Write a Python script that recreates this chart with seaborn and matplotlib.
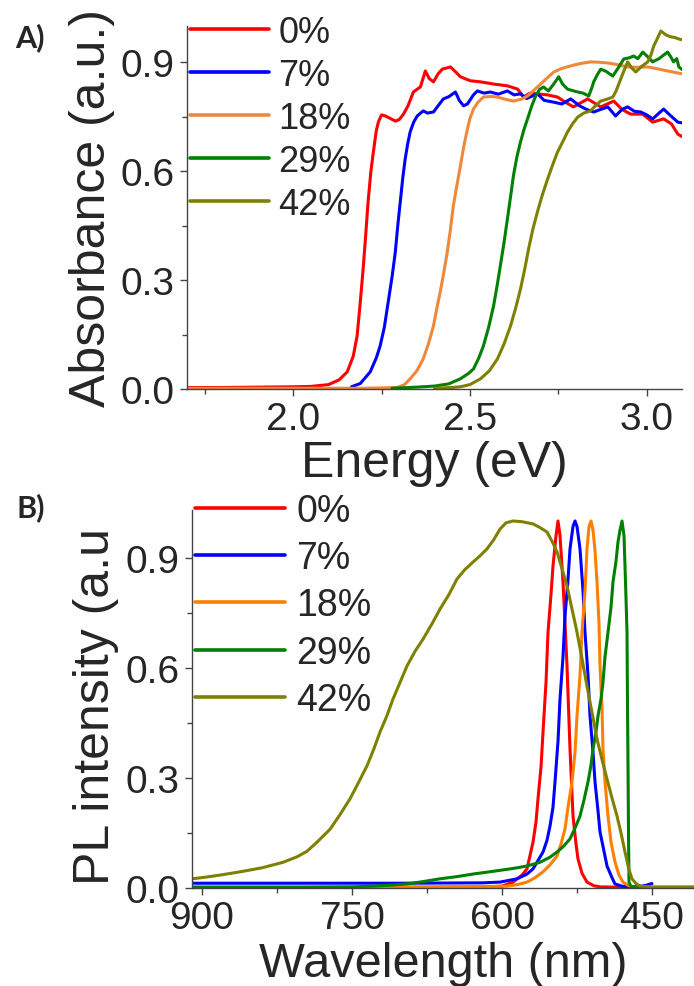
import pandas as pd
import matplotlib
matplotlib.use("Agg")
import matplotlib.pyplot as plt
import seaborn as sns
from matplotlib.ticker import MultipleLocator

# 샘플 레이블 및 색상
labels = ['0%', '7%', '18%', '29%', '42%']
abs_colors = ['#ff0000', '#0000ff', '#f0883a', '#008000', '#808000']
pl_colors = ['#ff0000', '#0000ff', '#ff8000', '#008000', '#808000']

# A) 흡광 스펙트럼 (energy eV, absorbance)
abs_0 = [(1.70, 0.004), (1.80, 0.004), (1.90, 0.005), (2.00, 0.006), (2.05, 0.007), (2.10, 0.012),
         (2.13, 0.025), (2.153, 0.047), (2.17, 0.09), (2.181, 0.146), (2.19, 0.24), (2.198, 0.33),
         (2.205, 0.42), (2.212, 0.515), (2.22, 0.60), (2.227, 0.653), (2.235, 0.71), (2.241, 0.735),
         (2.25, 0.755), (2.261, 0.752), (2.275, 0.745), (2.289, 0.738), (2.30, 0.742), (2.312, 0.757),
         (2.325, 0.78), (2.34, 0.818), (2.36, 0.832), (2.374, 0.876), (2.385, 0.855), (2.397, 0.846),
         (2.41, 0.868), (2.422, 0.881), (2.445, 0.887), (2.46, 0.873), (2.473, 0.86), (2.501, 0.849),
         (2.53, 0.846), (2.567, 0.84), (2.606, 0.835), (2.635, 0.826), (2.652, 0.804), (2.67, 0.815),
         (2.691, 0.813), (2.72, 0.81), (2.748, 0.804), (2.77, 0.79), (2.793, 0.777), (2.833, 0.799),
         (2.87, 0.777), (2.907, 0.793), (2.93, 0.77), (2.955, 0.757), (2.989, 0.757), (3.017, 0.735),
         (3.048, 0.744), (3.07, 0.73), (3.088, 0.702), (3.10, 0.695)]
abs_7 = [(2.165, 0.006), (2.19, 0.015), (2.218, 0.047), (2.235, 0.085), (2.246, 0.118), (2.258, 0.17),
         (2.269, 0.24), (2.28, 0.31), (2.289, 0.377), (2.296, 0.45), (2.303, 0.515), (2.31, 0.58),
         (2.317, 0.634), (2.324, 0.675), (2.331, 0.708), (2.341, 0.735), (2.351, 0.752), (2.368, 0.766),
         (2.38, 0.76), (2.397, 0.763), (2.41, 0.78), (2.425, 0.799), (2.44, 0.805), (2.459, 0.818),
         (2.47, 0.795), (2.482, 0.78), (2.493, 0.785), (2.51, 0.81), (2.521, 0.821), (2.54, 0.815),
         (2.558, 0.818), (2.58, 0.812), (2.606, 0.821), (2.625, 0.81), (2.643, 0.813), (2.66, 0.80),
         (2.691, 0.813), (2.71, 0.795), (2.737, 0.79), (2.76, 0.785), (2.785, 0.799), (2.81, 0.78),
         (2.83, 0.77), (2.85, 0.763), (2.87, 0.77), (2.89, 0.777), (2.912, 0.752), (2.93, 0.77),
         (2.946, 0.777), (2.965, 0.765), (2.983, 0.763), (3.0, 0.755), (3.017, 0.744), (3.035, 0.76),
         (3.048, 0.771), (3.065, 0.755), (3.088, 0.735), (3.10, 0.733)]
abs_18 = [(1.70, 0.002), (1.90, 0.002), (2.10, 0.002), (2.20, 0.002), (2.295, 0.004), (2.315, 0.012),
          (2.331, 0.028), (2.35, 0.05), (2.368, 0.083), (2.383, 0.125), (2.397, 0.174), (2.406, 0.22),
          (2.416, 0.267), (2.426, 0.32), (2.436, 0.377), (2.445, 0.44), (2.453, 0.504), (2.463, 0.56),
          (2.473, 0.614), (2.483, 0.67), (2.493, 0.716), (2.50, 0.745), (2.51, 0.771), (2.523, 0.79),
          (2.538, 0.804), (2.558, 0.806), (2.578, 0.804), (2.60, 0.798), (2.623, 0.793), (2.645, 0.798),
          (2.663, 0.807), (2.68, 0.822), (2.70, 0.84), (2.72, 0.858), (2.737, 0.873), (2.76, 0.883),
          (2.785, 0.89), (2.81, 0.896), (2.841, 0.901), (2.865, 0.9), (2.89, 0.898), (2.92, 0.893),
          (2.946, 0.887), (2.975, 0.886), (3.003, 0.887), (3.03, 0.882), (3.059, 0.876), (3.08, 0.872),
          (3.10, 0.868)]
abs_29 = [(2.28, 0.002), (2.35, 0.005), (2.40, 0.008), (2.44, 0.014), (2.473, 0.028), (2.495, 0.042),
          (2.51, 0.055), (2.525, 0.085), (2.538, 0.118), (2.553, 0.17), (2.567, 0.229), (2.577, 0.285),
          (2.586, 0.339), (2.596, 0.40), (2.606, 0.468), (2.615, 0.53), (2.623, 0.587), (2.633, 0.64),
          (2.643, 0.68), (2.653, 0.715), (2.663, 0.744), (2.675, 0.78), (2.686, 0.807), (2.697, 0.825),
          (2.708, 0.832), (2.722, 0.821), (2.737, 0.84), (2.751, 0.86), (2.762, 0.84), (2.776, 0.826),
          (2.79, 0.822), (2.805, 0.818), (2.82, 0.815), (2.836, 0.807), (2.845, 0.83), (2.85, 0.846),
          (2.86, 0.865), (2.87, 0.881), (2.885, 0.875), (2.904, 0.862), (2.92, 0.885), (2.935, 0.909),
          (2.95, 0.912), (2.963, 0.917), (2.975, 0.91), (2.989, 0.928), (3.003, 0.915), (3.017, 0.901),
          (3.035, 0.91), (3.059, 0.928), (3.068, 0.915), (3.076, 0.901), (3.085, 0.91), (3.091, 0.887),
          (3.10, 0.88)]
abs_42 = [(2.40, 0.002), (2.45, 0.004), (2.473, 0.006), (2.50, 0.012), (2.53, 0.028), (2.555, 0.05),
          (2.578, 0.083), (2.597, 0.125), (2.615, 0.174), (2.63, 0.225), (2.643, 0.275), (2.655, 0.33),
          (2.666, 0.386), (2.678, 0.44), (2.691, 0.488), (2.705, 0.535), (2.72, 0.579), (2.735, 0.62),
          (2.748, 0.653), (2.762, 0.68), (2.776, 0.708), (2.79, 0.73), (2.805, 0.749), (2.822, 0.76),
          (2.841, 0.766), (2.855, 0.78), (2.87, 0.793), (2.887, 0.798), (2.904, 0.804), (2.913, 0.82),
          (2.921, 0.84), (2.933, 0.87), (2.946, 0.901), (2.957, 0.885), (2.969, 0.873), (2.985, 0.888),
          (3.003, 0.901), (3.012, 0.92), (3.02, 0.945), (3.03, 0.965), (3.04, 0.986), (3.055, 0.975),
          (3.068, 0.97), (3.08, 0.968), (3.091, 0.964), (3.10, 0.962)]

# B) PL 스펙트럼 (wavelength nm, normalized intensity)
pl_0 = [(910, 0.002), (800, 0.002), (700, 0.002), (620, 0.003), (600, 0.005), (589, 0.016), (580, 0.035),
        (575, 0.052), (569, 0.125), (566, 0.18), (564, 0.243), (561, 0.33), (559, 0.425), (556, 0.56),
        (554, 0.697), (551, 0.8), (549, 0.877), (546, 0.96), (544, 1.0), (542, 0.96), (539, 0.834),
        (537, 0.72), (535, 0.605), (532, 0.379), (529, 0.196), (526, 0.12), (524, 0.079), (520, 0.04),
        (515, 0.016), (508, 0.006), (502, 0.003), (480, 0.002), (450, 0.002)]
pl_7 = [(910, 0.013), (800, 0.013), (700, 0.013), (620, 0.014), (602, 0.016), (585, 0.025), (575, 0.038),
        (569, 0.052), (564, 0.075), (559, 0.098), (555, 0.13), (552, 0.169), (549, 0.22), (547, 0.289),
        (544, 0.40), (542, 0.515), (539, 0.63), (537, 0.741), (534, 0.84), (532, 0.924), (529, 0.985),
        (527, 1.0), (525, 0.985), (522, 0.924), (519, 0.81), (517, 0.697), (514, 0.58), (512, 0.469),
        (509, 0.37), (507, 0.289), (504, 0.21), (502, 0.153), (498, 0.1), (495, 0.06), (490, 0.028),
        (487, 0.011), (480, 0.005), (475, 0.003), (460, 0.005), (455, 0.008), (452, 0.011), (450, 0.012)]
pl_18 = [(910, 0.002), (700, 0.002), (620, 0.003), (595, 0.005), (585, 0.009), (575, 0.016), (567, 0.028),
         (559, 0.044), (552, 0.063), (545, 0.087), (541, 0.12), (537, 0.161), (534, 0.22), (530, 0.289),
         (527, 0.37), (525, 0.469), (522, 0.58), (520, 0.697), (517, 0.81), (515, 0.924), (513, 0.985),
         (511, 1.0), (509, 0.975), (507, 0.92), (505, 0.834), (503, 0.72), (502, 0.605), (500, 0.49),
         (499, 0.379), (497, 0.29), (494, 0.196), (491, 0.125), (487, 0.071), (483, 0.035), (479, 0.016),
         (474, 0.007), (469, 0.003), (450, 0.002)]
pl_29 = [(910, 0.002), (800, 0.002), (750, 0.003), (729, 0.005), (710, 0.008), (695, 0.011), (680, 0.017),
         (662, 0.025), (645, 0.031), (629, 0.038), (610, 0.045), (592, 0.052), (585, 0.055), (575, 0.06),
         (562, 0.07), (552, 0.084), (545, 0.098), (538, 0.115), (532, 0.134), (527, 0.163), (522, 0.196),
         (518, 0.24), (514, 0.289), (511, 0.335), (509, 0.379), (506, 0.425), (504, 0.469), (501, 0.515),
         (499, 0.561), (497, 0.63), (494, 0.697), (491, 0.765), (489, 0.834), (486, 0.89), (484, 0.943),
         (482, 0.975), (480, 1.0), (478, 0.96), (477, 0.877), (476, 0.79), (475, 0.697), (474.5, 0.5),
         (474, 0.333), (473.5, 0.15), (473, 0.016), (471, 0.004), (465, 0.003), (455, 0.003)]
pl_42 = [(910, 0.025), (895, 0.03), (880, 0.036), (862, 0.044), (840, 0.055), (819, 0.07), (805, 0.085),
         (795, 0.1), (785, 0.125), (772, 0.16), (762, 0.2), (752, 0.243), (743, 0.29), (735, 0.333),
         (728, 0.38), (722, 0.425), (715, 0.47), (709, 0.515), (702, 0.56), (695, 0.605), (687, 0.645),
         (679, 0.678), (670, 0.72), (662, 0.76), (653, 0.80), (645, 0.842), (637, 0.868), (629, 0.888),
         (622, 0.905), (615, 0.924), (608, 0.95), (602, 0.978), (596, 0.995), (589, 1.0), (580, 0.998),
         (569, 0.992), (562, 0.982), (555, 0.97), (550, 0.945), (545, 0.916), (540, 0.87), (535, 0.823),
         (530, 0.76), (525, 0.697), (520, 0.625), (515, 0.55), (510, 0.478), (505, 0.406), (500, 0.35),
         (495, 0.297), (490, 0.245), (485, 0.196), (481, 0.15), (477, 0.098), (473, 0.05), (470, 0.025),
         (466, 0.012), (462, 0.005), (450, 0.003), (430, 0.003), (408, 0.003)]


def to_frame(series, xname, yname):
    rows = []
    for lab, pts in zip(labels, series):
        for x, y in pts:
            rows.append((lab, x, y))
    return pd.DataFrame(rows, columns=['sample', xname, yname])


df_abs = to_frame([abs_0, abs_7, abs_18, abs_29, abs_42], 'energy', 'absorbance')
df_pl = to_frame([pl_0, pl_7, pl_18, pl_29, pl_42], 'wavelength', 'pl')

sns.set_style('ticks')
plt.rcParams['font.family'] = ['Liberation Sans', 'DejaVu Sans']

fig = plt.figure(figsize=(6.94, 9.87), dpi=100)
ax1 = fig.add_axes([0.2695, 0.6049, 0.7133, 0.3678])
ax2 = fig.add_axes([0.2767, 0.0993, 0.7233, 0.3830])

sns.lineplot(data=df_abs, x='energy', y='absorbance', hue='sample', hue_order=labels,
             palette=dict(zip(labels, abs_colors)), estimator=None, sort=False,
             linewidth=2.2, ax=ax1)
sns.lineplot(data=df_pl, x='wavelength', y='pl', hue='sample', hue_order=labels,
             palette=dict(zip(labels, pl_colors)), estimator=None, sort=False,
             linewidth=2.2, ax=ax2)

# 축 범위 및 눈금
ax1.set_xlim(1.7, 3.1)
ax1.set_ylim(0, 1.0)
ax1.xaxis.set_major_locator(MultipleLocator(0.5))
ax1.xaxis.set_minor_locator(MultipleLocator(0.25))
ax2.set_xlim(910, 408)
ax2.set_ylim(0, 1.03)
ax2.xaxis.set_major_locator(MultipleLocator(150))
ax2.xaxis.set_minor_locator(MultipleLocator(75))

for ax in (ax1, ax2):
    ax.yaxis.set_major_locator(MultipleLocator(0.3))
    ax.yaxis.set_minor_locator(MultipleLocator(0.15))
    ax.yaxis.set_major_formatter(matplotlib.ticker.FormatStrFormatter('%.1f'))
    for side in ('top', 'right'):
        ax.spines[side].set_visible(False)
    for side in ('left', 'bottom'):
        ax.spines[side].set_linewidth(1.0)
        ax.spines[side].set_color('#444444')
    ax.tick_params(which='major', direction='out', length=5, width=1.0, color='#444444', pad=4)
    ax.tick_params(which='minor', direction='out', length=3.5, width=1.0, color='#444444')
    ax.tick_params(which='major', labelsize=28)

ax1.set_xlabel('Energy (eV)', fontsize=36)
ax1.set_ylabel('Absorbance (a.u.)', fontsize=36)
ax2.set_xlabel('Wavelength (nm)', fontsize=35)
ax2.set_ylabel('PL intensity (a.u', fontsize=36)
ax1.xaxis.set_label_coords(0.5, -0.14)
ax1.yaxis.set_label_coords(-0.145, 0.5)
ax2.xaxis.set_label_coords(0.5, -0.14)
ax2.yaxis.set_label_coords(-0.145, 0.484)

ax1.legend(loc='upper left', bbox_to_anchor=(0.006, 1.03), frameon=False, fontsize=26,
           handlelength=2.2, handletextpad=0.25, labelspacing=0.22, borderaxespad=0, borderpad=0)
ax2.legend(loc='upper left', bbox_to_anchor=(0.006, 1.045), frameon=False, fontsize=27,
           handlelength=2.4, handletextpad=0.3, labelspacing=0.3, borderaxespad=0, borderpad=0)
for leg in (ax1.get_legend(), ax2.get_legend()):
    for h in leg.get_lines():
        h.set_linewidth(2.6)

fig.text(0.022, 0.976, 'A)', fontsize=22, fontweight='bold', va='top', family=['Lato', 'DejaVu Sans'])
fig.text(0.024, 0.500, 'B)', fontsize=22, fontweight='bold', va='top', family=['Lato', 'DejaVu Sans'])

fig.savefig('out.png', dpi=100)
